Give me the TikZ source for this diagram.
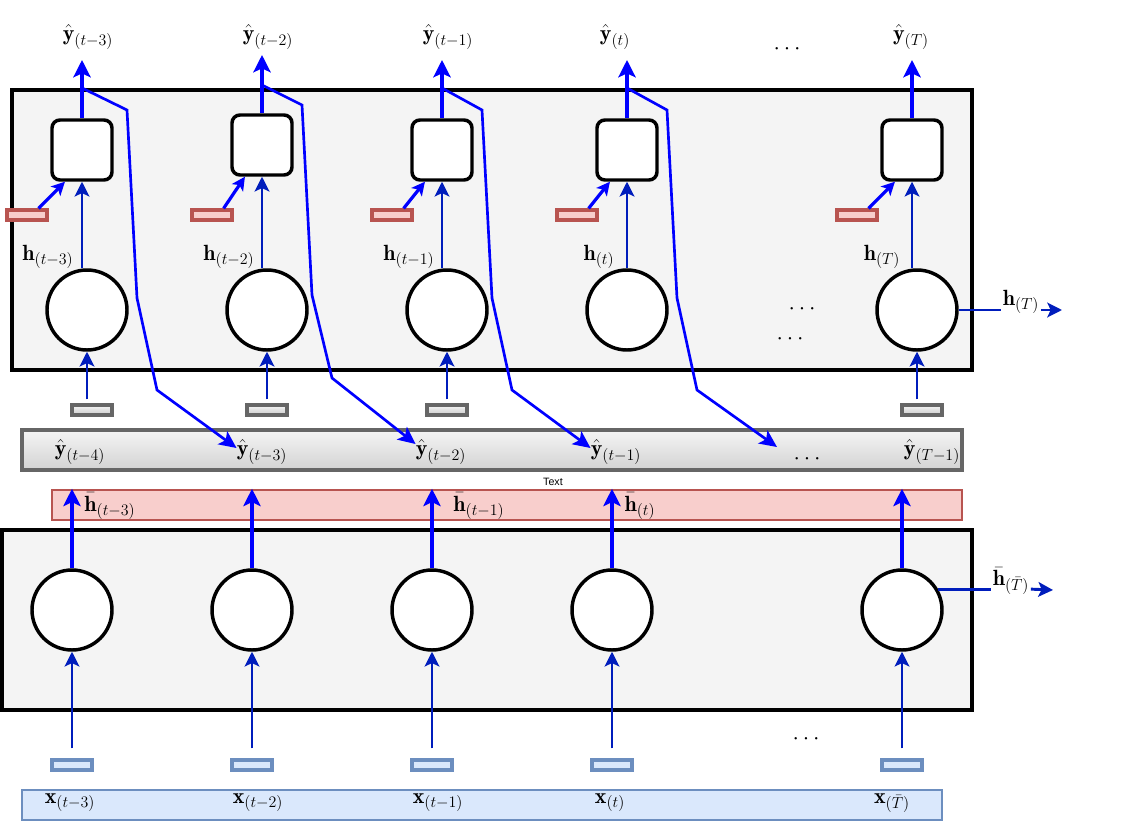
\documentclass[tikz,border=0pt]{standalone}
\usepackage{fontspec}
\newfontfamily\helv{Liberation Sans}
\usetikzlibrary{arrows.meta}
\definecolor{outblue}{HTML}{0000FF}
\definecolor{inblue}{HTML}{001DBC}
\definecolor{boxfill}{HTML}{F4F4F4}
\definecolor{redf}{HTML}{F8CECC}
\definecolor{redb}{HTML}{B85450}
\definecolor{bluef}{HTML}{DAE8FC}
\definecolor{blueb}{HTML}{6C8EBF}
\definecolor{grayb}{HTML}{666666}
\tikzset{
  bigbox/.style={draw=black, fill=boxfill, line width=2.6pt, inner sep=0},
  cellc/.style={circle, draw=black, fill=white, line width=2.6pt, minimum size=60pt, inner sep=0},
  sq/.style={rectangle, rounded corners=6pt, draw=black, fill=white, line width=2.6pt, minimum size=45pt, inner sep=0},
  tok/.style={rectangle, line width=2.4pt, minimum width=30pt, minimum height=7.5pt, inner sep=0},
  redtok/.style={tok, draw=redb, fill=redf},
  bluetok/.style={tok, draw=blueb, fill=bluef},
  graytok/.style={tok, draw=grayb, top color=gray!8, bottom color=gray!40},
  lab/.style={font=\fontsize{16.5}{20}\selectfont, inner sep=1pt},
  thickout/.style={draw=outblue, line width=3pt, -{Stealth[length=13pt, width=13pt, inset=3pt]}},
  diagarr/.style={draw=outblue, line width=2.4pt, -{Stealth[length=10pt, width=10pt, inset=2.5pt]}},
  inarr/.style={draw=inblue, line width=2.2pt, -{Stealth[length=11pt, width=11pt, inset=2.5pt]}},
  fb/.style={draw=outblue, line width=2pt, -{Stealth[length=13pt, width=12pt, inset=3pt]}},
  sidearr/.style={draw=inblue, line width=2.2pt},
}
\begin{document}
\begin{tikzpicture}[x=0.75pt, y=-0.75pt]
\useasboundingbox (0,0) rectangle (1132,835);

% background boxes and bars
\node[bigbox, minimum width=720pt, minimum height=210pt] (topbox) at (492,230) {};
\node[bigbox, minimum width=727.5pt, minimum height=135pt] (botbox) at (487,620) {};
\node[draw=grayb, line width=2.6pt, top color=gray!8, bottom color=gray!35, minimum width=705pt, minimum height=30pt, inner sep=0] (graybar) at (492,450) {};
\node[draw=redb, fill=redf, line width=1.8pt, minimum width=682.5pt, minimum height=22.5pt, inner sep=0] (redbar) at (507,505) {};
\node[draw=blueb, fill=bluef, line width=1.8pt, minimum width=690pt, minimum height=22.5pt, inner sep=0] (bluebar) at (482,805) {};
\node[font=\helv\fontsize{8}{9}\selectfont, inner sep=0] (txt) at (553,482) {Text};

% top layer
\foreach \i/\cx/\sx/\sy/\rx/\ty in {1/87/82/150/27/60, 2/267/262/145/212/55, 3/447/442/150/392/60, 4/627/627/150/577/60, 5/917/912/150/857/60}{
  \node[cellc] (h\i) at (\cx,310) {};
  \node[sq] (o\i) at (\sx,\sy) {};
  \node[redtok] (r\i) at (\rx,215) {};
  \coordinate (yt\i) at (\sx,\ty);
  \draw[inarr] (o\i.south |- h\i.north) -- (o\i.south);
  \draw[diagarr] ([xshift=-7.5pt]r\i.north east) -- ([xshift=11pt]o\i.south west);
  \draw[thickout] (o\i.north) -- (yt\i);
}
\node[lab] (yl1) at (88,37) {$\hat{\mathbf{y}}_{(t-3)}$};
\node[lab] (yl2) at (268,37) {$\hat{\mathbf{y}}_{(t-2)}$};
\node[lab] (yl3) at (448,37) {$\hat{\mathbf{y}}_{(t-1)}$};
\node[lab] (yl4) at (615,37) {$\hat{\mathbf{y}}_{(t)}$};
\node[lab] (yl5) at (911,37) {$\hat{\mathbf{y}}_{(T)}$};

\node[lab] (hl1) at (48,257) {$\mathbf{h}_{(t-3)}$};
\node[lab] (hl2) at (229,257) {$\mathbf{h}_{(t-2)}$};
\node[lab] (hl3) at (409,257) {$\mathbf{h}_{(t-1)}$};
\node[lab] (hl4) at (599,257) {$\mathbf{h}_{(t)}$};
\node[lab] (hl5) at (882,257) {$\mathbf{h}_{(T)}$};

% gray tokens and inputs to top circles
\foreach \i/\gx in {1/92, 2/267, 3/447, 5/922}{
  \node[graytok] (g\i) at (\gx,410) {};
  \draw[inarr, shorten <=3pt] (h\i.south |- g\i.north) -- (h\i.south);
}

% h_(T) out
\node[lab] (hT) at (1021,302) {$\mathbf{h}_{(T)}$};
\coordinate (hTend) at (1062,310);
\draw[sidearr] (h5.east) -- (h5.east -| hT.west);
\draw[inarr] (hT.east |- h5.east) -- (hTend);

% dots
\node[lab] (d1) at (787,49) {$\cdots$};
\node[lab] (d2) at (802,309) {$\cdots$};
\node[lab] (d3) at (790,339) {$\cdots$};
\node[lab] (d4) at (807,459) {$\cdots$};
\node[lab] (d5) at (806,739) {$\cdots$};

% gray bar labels
\node[lab] (yb1) at (80,452) {$\hat{\mathbf{y}}_{(t-4)}$};
\node[lab] (yb2) at (262,452) {$\hat{\mathbf{y}}_{(t-3)}$};
\node[lab] (yb3) at (441,452) {$\hat{\mathbf{y}}_{(t-2)}$};
\node[lab] (yb4) at (616,452) {$\hat{\mathbf{y}}_{(t-1)}$};
\node[lab] (yb5) at (932,452) {$\hat{\mathbf{y}}_{(T-1)}$};
\coordinate (fe4) at (777,447);

% feedback lines
\coordinate (fs1) at (82,88);
\coordinate (fs2) at (262,85);
\coordinate (fs3) at (442,88);
\coordinate (fs4) at (627,88);
\draw[fb] (fs1) -- (127,110) -- (137,298) -- (157,390) -- ([xshift=1pt,yshift=3pt]yb2.west);
\draw[fb] (fs2) -- (302,105) -- (312,295) -- (332,378) -- ([xshift=1pt,yshift=6pt]yb3.west);
\draw[fb] (fs3) -- (482,110) -- (492,298) -- (512,390) -- ([xshift=1pt,yshift=3pt]yb4.west);
\draw[fb] (fs4) -- (667,110) -- (677,298) -- (697,390) -- (fe4);

% bottom layer
\foreach \i/\cx in {1/72, 2/252, 3/432, 4/612, 5/902}{
  \node[cellc] (b\i) at (\cx,610) {};
  \node[bluetok] (t\i) at (\cx,765) {};
  \draw[thickout] (b\i.north) -- (b\i.north |- redbar.north);
  \draw[inarr] ([yshift=7.5pt]t\i.north) -- (b\i.south);
}
\node[lab] (hb1) at (110,506) {$\bar{\mathbf{h}}_{(t-3)}$};
\node[lab] (hb3) at (479,506) {$\bar{\mathbf{h}}_{(t-1)}$};
\node[lab] (hb4) at (640,506) {$\bar{\mathbf{h}}_{(t)}$};

\node[lab] (x1) at (70,803) {$\mathbf{x}_{(t-3)}$};
\node[lab] (x2) at (258,803) {$\mathbf{x}_{(t-2)}$};
\node[lab] (x3) at (438,803) {$\mathbf{x}_{(t-1)}$};
\node[lab] (x4) at (610,803) {$\mathbf{x}_{(t)}$};
\node[lab] (x5) at (892,803) {$\mathbf{x}_{(\bar{T})}$};

% hbar_(T) out
\node[lab] (hbT) at (1011,581) {$\bar{\mathbf{h}}_{(\bar{T})}$};
\coordinate (hbTend) at (1053,590);
\draw[sidearr] (b5.30) -- (b5.30 -| hbT.west);
\draw[inarr] (hbT.east |- b5.30) -- (hbTend);
\end{tikzpicture}
\end{document}
